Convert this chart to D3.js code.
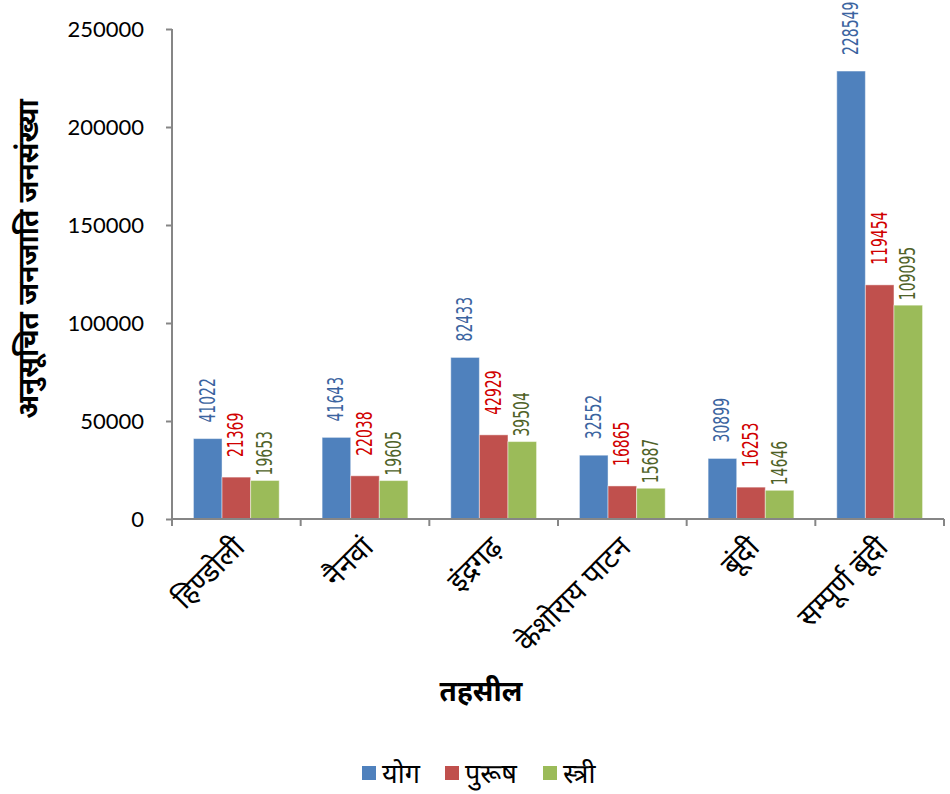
<!DOCTYPE html>
<html>
<head>
<meta charset="utf-8">
<script src="https://cdn.jsdelivr.net/npm/d3@7"></script>
<style>
  html, body { margin: 0; padding: 0; background: #fff; }
  svg { display: block; }
</style>
</head>
<body>
<svg id="chart" width="950" height="794"></svg>
<script>
// Tehsil-wise Scheduled Tribe population, Bundi district
const categories = ["हिण्डोली", "नैनवां", "इंद्रगढ़", "केशोराय पाटन", "बूंदी", "सम्पूर्ण बूंदी"];
const seriesNames = ["योग", "पुरूष", "स्त्री"];
const totalValues = [41022, 41643, 82433, 32552, 30899, 228549];
const maleValues = [21369, 22038, 42929, 16865, 16253, 119454];
const femaleValues = [19653, 19605, 39504, 15687, 14646, 109095];
const yTicks = [0, 50000, 100000, 150000, 200000, 250000];
const yTitle = "अनुसूचित जनजाति जनसंख्या";
const xTitle = "तहसील";

const seriesValues = [totalValues, maleValues, femaleValues];
const barColors = ["#4F81BD", "#C0504D", "#9BBB59"];
const labelColors = ["#3B64A0", "#D00000", "#4F6228"];
const labelGap = [16, 20, 5];

const svg = d3.select("#chart");
const margin = { left: 172, right: 6, top: 29, bottom: 275 };
const W = 950, H = 794;
const plotW = W - margin.left - margin.right;
const plotH = H - margin.top - margin.bottom;

const g = svg.append("g").attr("transform", `translate(${margin.left},${margin.top})`);

const x0 = d3.scaleBand().domain(categories).range([0, plotW]).paddingInner(0).paddingOuter(0);
const x1 = d3.scaleBand().domain(seriesNames).range([0, x0.bandwidth()]).paddingInner(0).paddingOuter(0.75);
const y = d3.scaleLinear().domain([0, 250000]).range([plotH, 0]);

const axisColor = "#868686";
const tickFont = "Lato, 'Open Sans', sans-serif";
const devFont = "'Noto Sans Devanagari', 'Noto Sans', 'Lohit Devanagari', sans-serif";

// Y axis
const yAxis = g.append("g").call(d3.axisLeft(y).tickValues(yTicks).tickSize(6).tickPadding(22).tickFormat(d3.format("d")));
yAxis.select(".domain").attr("stroke", axisColor).attr("stroke-width", 2).attr("d", `M0,${plotH}V0`);
yAxis.selectAll(".tick line").attr("stroke", axisColor).attr("stroke-width", 2);
yAxis.selectAll(".tick text").attr("fill", "#000").style("font-family", tickFont).style("font-size", "22px");

// Bars
const groups = g.selectAll("g.cat").data(categories).join("g")
  .attr("class", "cat")
  .attr("transform", d => `translate(${x0(d)},0)`);

const rows = (cat, ci) => seriesNames.map((s, si) => ({ s, si, v: seriesValues[si][ci] }));

groups.each(function(cat, ci) {
  const gg = d3.select(this);
  const data = rows(cat, ci);
  gg.selectAll("rect").data(data).join("rect")
    .attr("x", d => x1(d.s))
    .attr("y", d => y(d.v))
    .attr("width", x1.bandwidth())
    .attr("height", d => plotH - y(d.v))
    .attr("fill", d => barColors[d.si])
    .attr("stroke", "rgba(255,255,255,0.45)")
    .attr("stroke-width", 1);
  gg.selectAll("text.val").data(data).join("text")
    .attr("class", "val")
    .attr("transform", d => `translate(${x1(d.s) + x1.bandwidth() / 2 + 7},${y(d.v) - labelGap[d.si]}) rotate(-90) scale(0.74,1)`)
    .attr("text-anchor", "start")
    .attr("fill", d => labelColors[d.si])
    .style("font-family", "'Liberation Sans Narrow', 'DejaVu Sans Condensed', sans-serif")
    .style("font-size", "21px")
    .text(d => d.v);
});

// X axis
const xAxis = g.append("g").attr("transform", `translate(0,${plotH})`);
xAxis.append("path").attr("d", `M0,0H${plotW}`).attr("stroke", axisColor).attr("stroke-width", 2).attr("fill", "none");
const boundaries = categories.map(c => x0(c)).concat([plotW]);
xAxis.selectAll("line.tk").data(boundaries).join("line")
  .attr("class", "tk")
  .attr("x1", d => d).attr("x2", d => d)
  .attr("y1", 0).attr("y2", 7)
  .attr("stroke", axisColor).attr("stroke-width", 2);
xAxis.selectAll("text.cat").data(categories).join("text")
  .attr("class", "cat")
  .attr("transform", d => `translate(${x0(d) + x0.bandwidth() / 2 + 10},${30}) rotate(-45)`)
  .attr("text-anchor", "end")
  .attr("fill", "#000")
  .style("font-family", devFont)
  .style("font-size", "29px")
  .text(d => d);

// Axis titles
svg.append("text")
  .attr("transform", `translate(38,${259}) rotate(-90)`)
  .attr("text-anchor", "middle")
  .style("font-family", devFont)
  .style("font-size", "28px")
  .style("font-weight", "bold")
  .text(yTitle);

svg.append("text")
  .attr("x", 481).attr("y", 701)
  .attr("text-anchor", "middle")
  .style("font-family", devFont)
  .style("font-size", "28px")
  .style("font-weight", "bold")
  .text(xTitle);

// Legend
const legendX = [362, 445, 543];
const legend = svg.append("g");
seriesNames.forEach((s, i) => {
  legend.append("rect").attr("x", legendX[i]).attr("y", 766).attr("width", 14).attr("height", 14).attr("fill", barColors[i]);
  legend.append("text").attr("x", legendX[i] + 20).attr("y", 783)
    .style("font-family", devFont).style("font-size", "27px").attr("fill", "#000").text(s);
});
</script>
</body>
</html>
